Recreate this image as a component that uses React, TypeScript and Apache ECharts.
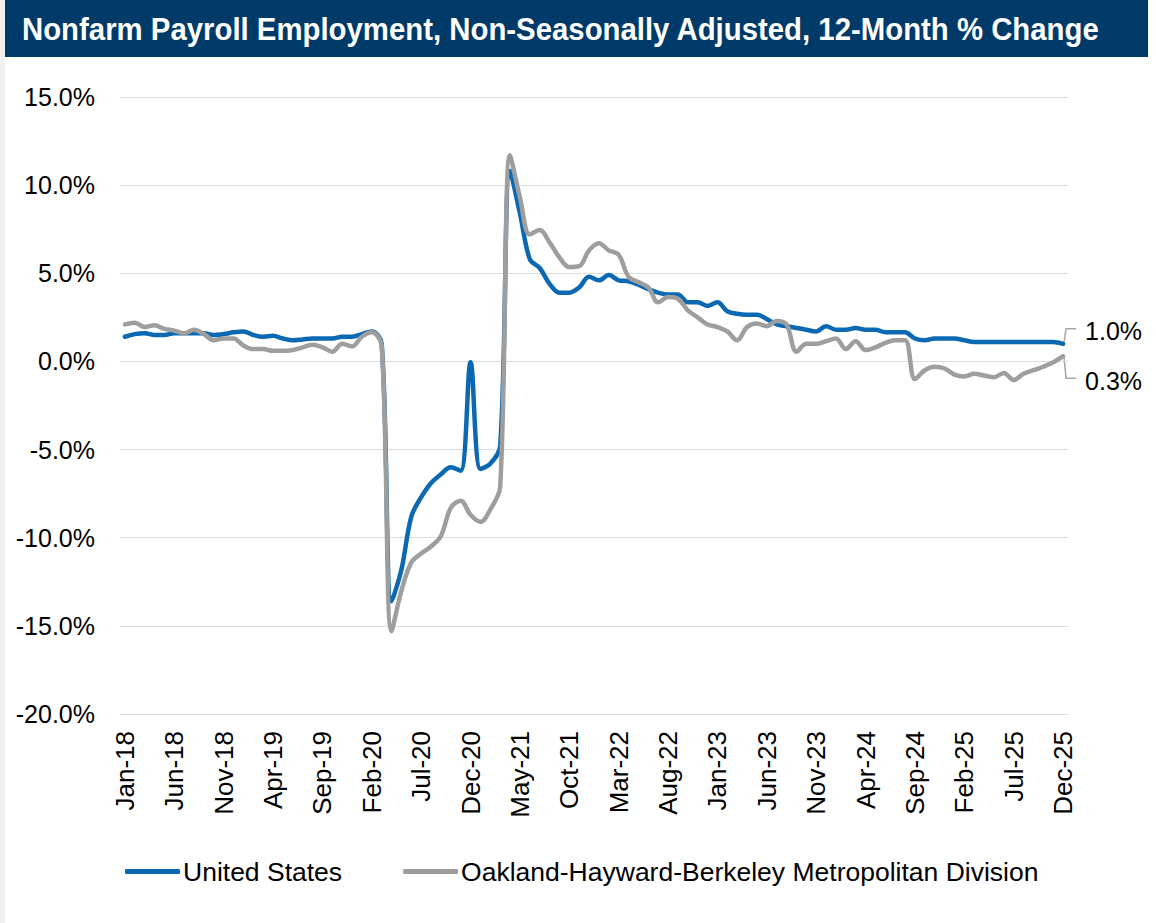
import React, { useEffect, useRef } from "react";
import * as echarts from "echarts";

const FONT = "Arial, 'Liberation Sans', Helvetica, sans-serif";
const TITLE = "Nonfarm Payroll Employment, Non-Seasonally Adjusted, 12-Month % Change";

const MONTH_NAMES = ["Jan", "Feb", "Mar", "Apr", "May", "Jun", "Jul", "Aug", "Sep", "Oct", "Nov", "Dec"];
const YEARS = ["18", "19", "20", "21", "22", "23", "24", "25"];
const categories: string[] = YEARS.flatMap((y) => MONTH_NAMES.map((m) => `${m}-${y}`));

const SERIES_NAMES = ["United States", "Oakland-Hayward-Berkeley Metropolitan Division"];

// 12-month % change, United States
const usValues = [
  1.4, 1.55, 1.6, 1.5, 1.5, 1.6, 1.6, 1.6, 1.6, 1.5, 1.55, 1.65,
  1.7, 1.5, 1.4, 1.45, 1.3, 1.2, 1.25, 1.3, 1.3, 1.3, 1.4, 1.4,
  1.55, 1.7, 1.0, -13.6, -11.8, -8.8, -7.7, -6.9, -6.4, -6.0, -6.2, -0.05,
  -6.1, -5.8, -4.8, 10.8, 8.4, 5.8, 5.3, 4.4, 3.9, 3.9, 4.2, 4.8,
  4.6, 4.9, 4.6, 4.55, 4.35, 4.1, 3.9, 3.8, 3.8, 3.35, 3.35, 3.15,
  3.35, 2.85, 2.7, 2.65, 2.65, 2.4, 2.1, 2.0, 1.9, 1.8, 1.7, 2.0,
  1.8, 1.8, 1.9, 1.8, 1.8, 1.65, 1.65, 1.65, 1.3, 1.2, 1.3, 1.3,
  1.3, 1.2, 1.1, 1.1, 1.1, 1.1, 1.1, 1.1, 1.1, 1.1, 1.1, 1.0,
];

// 12-month % change, Oakland-Hayward-Berkeley Metropolitan Division
const oaklandValues = [
  2.1, 2.2, 1.95, 2.05, 1.85, 1.75, 1.6, 1.8, 1.55, 1.2, 1.3, 1.3,
  0.9, 0.7, 0.7, 0.6, 0.6, 0.65, 0.8, 0.95, 0.8, 0.55, 1.0, 0.85,
  1.4, 1.65, 0.9, -15.3, -13.0, -11.4, -10.9, -10.5, -9.9, -8.3, -7.9, -8.7,
  -9.1, -8.4, -7.1, 11.7, 9.3, 7.2, 7.45, 6.75, 5.9, 5.35, 5.4, 6.3,
  6.7, 6.3, 6.05, 4.8, 4.5, 4.2, 3.35, 3.65, 3.55, 2.9, 2.5, 2.1,
  1.95, 1.7, 1.2, 1.95, 2.15, 2.0, 2.3, 2.1, 0.55, 1.0, 1.0, 1.15,
  1.3, 0.7, 1.15, 0.65, 0.8, 1.05, 1.2, 1.2, -1.0, -0.5, -0.3, -0.4,
  -0.75, -0.85, -0.7, -0.8, -0.9, -0.65, -1.05, -0.7, -0.5, -0.3, -0.05, 0.3,
];

const Y_MIN = -20;
const Y_MAX = 15;
const Y_STEP = 5;

const COLORS = ["#0b69b3", "#9e9e9e"];

export default function App() {
  const ref = useRef<HTMLDivElement>(null);

  useEffect(() => {
    if (!ref.current) return;
    const chart = echarts.init(ref.current, null, { renderer: "svg" });

    const titleGraphics = [
      { type: "rect", left: 0, top: 0, shape: { width: 5, height: 923 }, style: { fill: "#f0f0f0" }, silent: true },
      { type: "rect", left: 5, top: 0, shape: { width: 1143, height: 57 }, style: { fill: "#003a68" }, silent: true },
      {
        type: "text",
        x: 22,
        y: 29,
        scaleX: 0.932,
        style: {
          text: TITLE,
          fill: "#ffffff",
          font: `bold 31.5px ${FONT}`,
          textVerticalAlign: "middle",
          verticalAlign: "middle",
        },
        silent: true,
      },
    ];

    const option: any = {
      animation: false,
      backgroundColor: "#ffffff",
      color: COLORS,
      grid: { left: 120, right: 88, top: 97, bottom: 209 },
      legend: {
        left: 120,
        top: 853,
        icon: "roundRect",
        itemWidth: 55,
        itemHeight: 5,
        itemGap: 61,
        data: SERIES_NAMES,
        textStyle: { fontSize: 26.5, color: "#000", fontFamily: FONT, padding: [0, 0, 0, -2] },
      },
      xAxis: {
        type: "category",
        data: categories,
        boundaryGap: true,
        axisLine: { show: false },
        axisTick: { show: false },
        axisLabel: { interval: 4, rotate: 90, fontSize: 26, color: "#000", margin: 17, fontFamily: FONT },
      },
      yAxis: {
        type: "value",
        min: Y_MIN,
        max: Y_MAX,
        interval: Y_STEP,
        axisLine: { show: false },
        axisTick: { show: false },
        axisLabel: {
          formatter: (v: number) => `${v.toFixed(1)}%`,
          fontSize: 25,
          color: "#000",
          margin: 25,
          fontFamily: FONT,
        },
        splitLine: { lineStyle: { color: "#dcdcdc", width: 1 } },
      },
      series: [
        {
          name: SERIES_NAMES[0],
          type: "line",
          data: usValues,
          smooth: 0.35,
          showSymbol: false,
          symbol: "none",
          lineStyle: { width: 4.5, color: COLORS[0], cap: "round", join: "round" },
          itemStyle: { color: COLORS[0] },
          z: 2,
        },
        {
          name: SERIES_NAMES[1],
          type: "line",
          data: oaklandValues,
          smooth: 0.35,
          showSymbol: false,
          symbol: "none",
          lineStyle: { width: 4.5, color: COLORS[1], cap: "round", join: "round" },
          itemStyle: { color: COLORS[1] },
          z: 3,
        },
      ],
      graphic: titleGraphics,
    };

    chart.setOption(option);

    const last = categories.length - 1;
    const usPt = chart.convertToPixel({ seriesIndex: 0 }, [last, usValues[last]]) as number[];
    const okPt = chart.convertToPixel({ seriesIndex: 1 }, [last, oaklandValues[last]]) as number[];
    const leaderStyle = { stroke: "#a6a6a6", lineWidth: 1.5, fill: "none" };
    const labelStyle = (t: string) => ({
      text: t,
      fill: "#000",
      font: `25px ${FONT}`,
      verticalAlign: "middle",
      textVerticalAlign: "middle",
    });

    chart.setOption({
      graphic: [
        ...titleGraphics,
        {
          type: "polyline",
          shape: {
            points: [
              [usPt[0] + 1, usPt[1] - 2],
              [usPt[0] + 3, usPt[1] - 15],
              [usPt[0] + 13, usPt[1] - 15],
            ],
          },
          style: leaderStyle,
          silent: true,
        },
        { type: "text", x: usPt[0] + 22, y: usPt[1] - 13, style: labelStyle(`${usValues[last].toFixed(1)}%`), silent: true },
        {
          type: "polyline",
          shape: {
            points: [
              [okPt[0] + 1, okPt[1] + 2],
              [okPt[0] + 3, okPt[1] + 22],
              [okPt[0] + 13, okPt[1] + 22],
            ],
          },
          style: leaderStyle,
          silent: true,
        },
        { type: "text", x: okPt[0] + 22, y: okPt[1] + 25, style: labelStyle(`${oaklandValues[last].toFixed(1)}%`), silent: true },
      ],
    });

    return () => chart.dispose();
  }, []);

  return (
    <div
      ref={ref}
      style={{ position: "fixed", left: 0, top: 0, width: 1156, height: 923, background: "#fff" }}
    />
  );
}
